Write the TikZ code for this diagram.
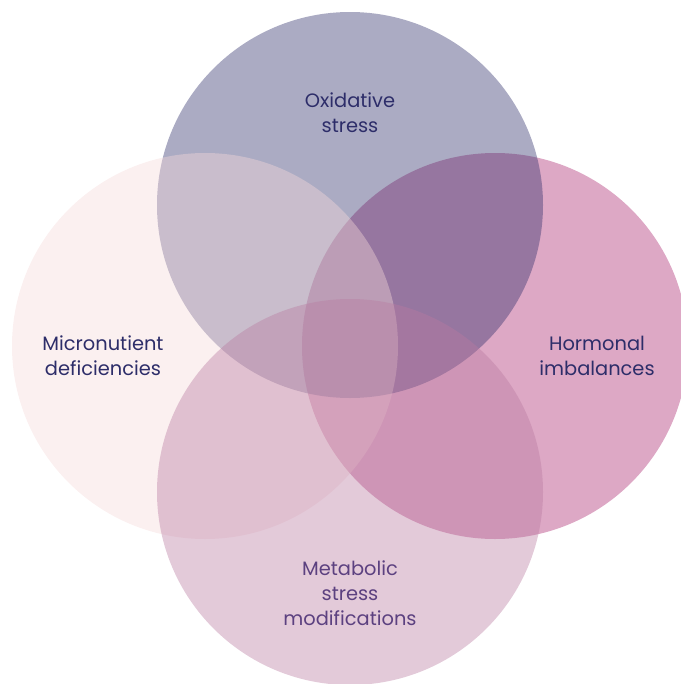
\documentclass[tikz,border=0pt]{standalone}
\usepackage{fontspec}
\setmainfont{Poppins}
\usepackage{xcolor}
\usetikzlibrary{positioning}

\definecolor{navy}{HTML}{2D2D69}
\definecolor{plum}{HTML}{5C4180}
\definecolor{rosefill}{HTML}{DDA8C5}
\definecolor{blushfill}{HTML}{F5D9D9}
\definecolor{mauvefill}{HTML}{B97AA0}

\tikzset{
    ring/.style={fill=#1, draw=none},
    label text/.style={align=center, text=navy, font=\fontsize{13.8}{17.9}\selectfont, inner sep=0pt}
}

\begin{document}
\begin{tikzpicture}[x=0.025cm, y=-0.025cm]
    \useasboundingbox (0,0) rectangle (681,684);
    % circles, back to front
    \fill[ring=rosefill] (495,346) circle (193);
    \fill[ring=navy, fill opacity=0.4] (350,205) circle (193);
    \fill[ring=blushfill, fill opacity=0.4] (205,346) circle (193);
    \fill[ring=mauvefill, fill opacity=0.4] (350,492) circle (193);
    % labels
    \node[label text] (oxid) at (350,113) {Oxidative\\stress};
    \node[label text] (micro) at (103,356) {Micronutient\\deficiencies};
    \node[label text] (horm) at (597,356) {Hormonal\\imbalances};
    \node[label text, text=plum] (metab) at (350,593) {Metabolic\\stress\\modifications};
\end{tikzpicture}
\end{document}
